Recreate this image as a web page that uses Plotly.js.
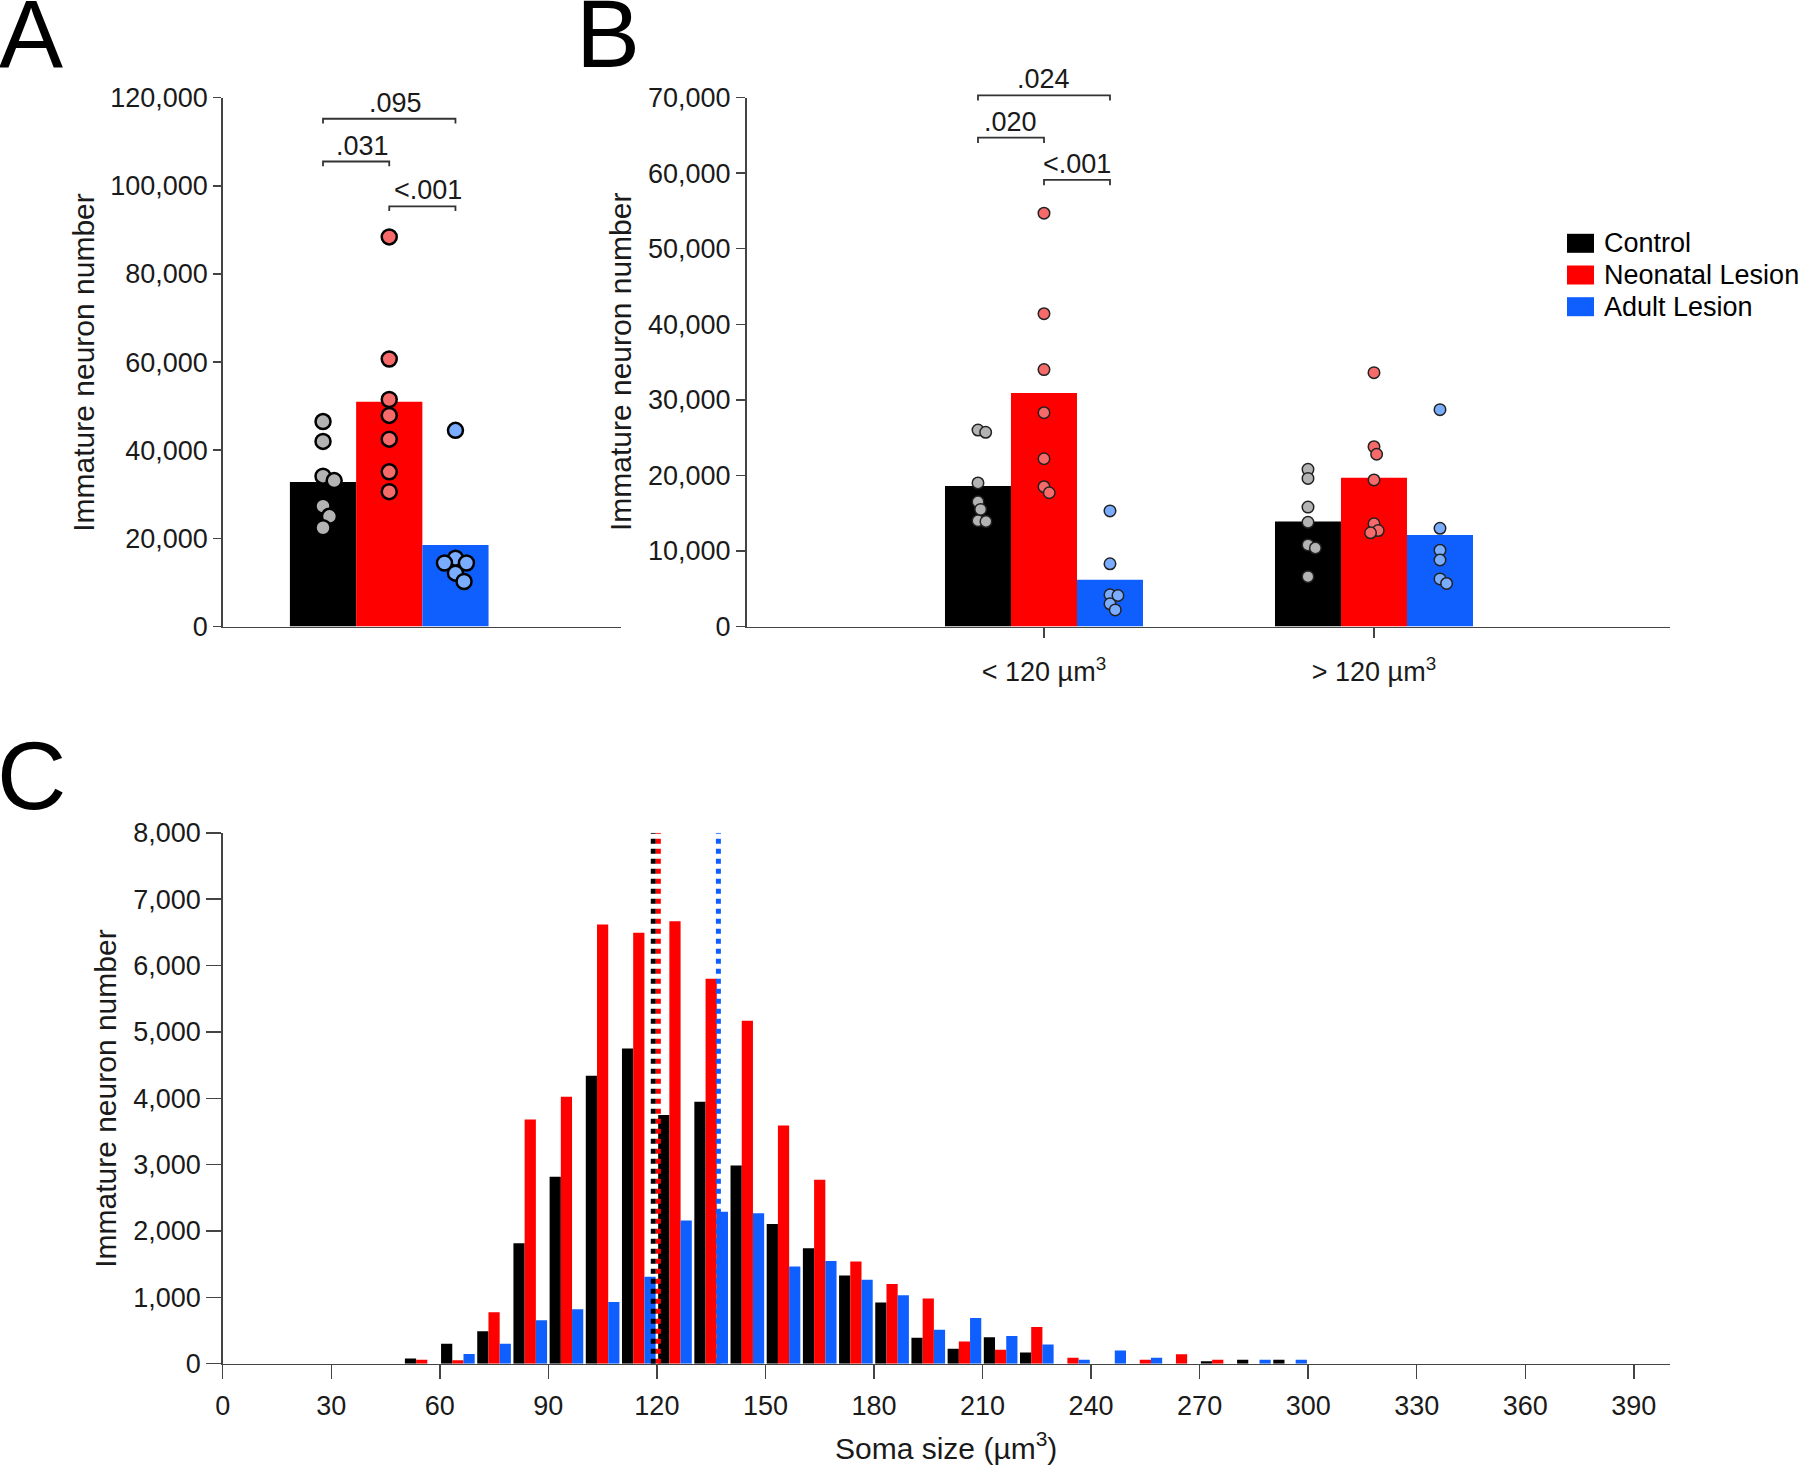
<!DOCTYPE html>
<html>
<head>
<meta charset="utf-8">
<script src="https://cdn.plot.ly/plotly-3.0.1.min.js"></script>
<style>html,body{margin:0;padding:0;background:#fff}</style>
</head>
<body>
<div id="fig" style="width:1800px;height:1468px"></div>
<script>
// ---- data ----
const groups = ['Control', 'Neonatal Lesion', 'Adult Lesion'];

// A: total immature neuron number, bar = group mean, dots = animals
const totalMeans = [32800, 51000, 18500];
const totalControl = [46500, 42000, 34100, 33100, 27300, 25000, 22400];
const totalNeonatal = [88400, 60700, 51500, 47900, 42500, 35100, 30600];
const totalAdult = [44500, 15500, 14400, 14400, 12100, 10200];
const pLabelsA = ['.095', '.031', '<.001'];
const pPairsA = [[0, 2], [0, 1], [1, 2]];
const pHeightsA = [115200, 105500, 95300];

// B: split by soma size
const sizeCats = ['< 120 \u00b5m<sup>3</sup>', '> 120 \u00b5m<sup>3</sup>'];
const sizeMeansControl = [18600, 13900];
const sizeMeansNeonatal = [30900, 19700];
const sizeMeansAdult = [6200, 12100];
const smallControl = [26000, 25700, 19000, 16500, 15500, 14000, 13900];
const smallNeonatal = [54700, 41400, 34000, 28300, 22200, 18500, 17700];
const smallAdult = [15300, 8300, 4200, 4100, 3000, 2200];
const largeControl = [20800, 19600, 15800, 13800, 10800, 10400, 6600];
const largeNeonatal = [33600, 23800, 22800, 19400, 13600, 12700, 12400];
const largeAdult = [28700, 13000, 10100, 8800, 6300, 5700];
const pLabelsB = ['.024', '.020', '<.001'];
const pPairsB = [[0, 2], [0, 1], [1, 2]];
const pHeightsB = [70300, 64700, 59100];

// C: soma size histogram (10 um^3 bins)
const somaBins = [55, 65, 75, 85, 95, 105, 115, 125, 135, 145, 155, 165, 175,
  185, 195, 205, 215, 225, 235, 245, 255, 265, 275, 285, 295];
const histControl = [77, 302, 488, 1816, 2818, 4339, 4750, 3748, 3947, 2985, 2105, 1739, 1329,
  924, 392, 225, 398, 167, 0, 0, 0, 0, 38, 58, 58];
const histNeonatal = [58, 51, 777, 3678, 4024, 6617, 6495, 6669, 5802, 5167, 3588, 2773, 1540,
  1200, 982, 334, 212, 552, 90, 0, 58, 141, 58, 0, 0];
const histAdult = [0, 148, 302, 655, 822, 931, 1309, 2157, 2291, 2266, 1463, 1547, 1264,
  1033, 513, 687, 417, 289, 58, 199, 90, 0, 0, 58, 58];
const meanSoma = [119.0, 120.4, 137.0];

// ---- styling ----
const W = 1800, H = 1468;
const FONT = 'Liberation Sans, Arial, Helvetica, sans-serif';
const TXT = '#1a1a1a';
const AX = '#444444';
const barColors = ['#000000', '#ff0000', '#0f5fff'];
const dotColors = ['#b3b3b3', '#f76a6a', '#7aacff'];

const px2x = p => p / W;
const px2y = p => 1 - p / H;

const domA = {x: [px2x(222.7), px2x(621)], y: [px2y(626.5), px2y(97.6)]};
const domB = {x: [px2x(746.5), px2x(1670)], y: domA.y};
const domC = {x: [px2x(222.7), px2x(1670)], y: [px2y(1363.7), px2y(832.8)]};
const rangeAx = [-0.503, 0.700], rangeBx = [-0.9015, 1.897];
const yMaxA = 120000, yMaxB = 70000, yMaxC = 8000;

const barW = 0.2;
const groupOff = g => (g - 1) * barW;

// simple beeswarm: shift overlapping dots sideways (in px), return offsets in x units
function swarm(values, dom, xRange, yMax, diam) {
  const pxY = (dom.y[1] - dom.y[0]) * H / yMax;
  const pxX = (dom.x[1] - dom.x[0]) * W / (xRange[1] - xRange[0]);
  const placed = [];
  const offs = values.map(v => {
    const y = v * pxY;
    const cands = [0];
    placed.forEach(p => {
      const dy = Math.abs(p.y - y);
      if (dy < diam) {
        const dx = Math.sqrt(diam * diam - dy * dy);
        cands.push(p.x + dx, p.x - dx);
      }
    });
    cands.sort((a, b) => Math.abs(a) - Math.abs(b));
    const x = cands.find(c => placed.every(p => Math.hypot(p.x - c, p.y - y) >= diam - 1e-6));
    placed.push({x: x, y: y});
    return x;
  });
  return offs.map(o => o / pxX);
}

const traces = [];
const shapes = [];
const annotations = [];

// ---- panel A ----
const totalDots = [totalControl, totalNeonatal, totalAdult];
groups.forEach((name, g) => {
  traces.push({
    type: 'bar', x: [0], y: [totalMeans[g]], xaxis: 'x', yaxis: 'y',
    width: barW, offset: groupOff(g) - barW / 2,
    marker: {color: barColors[g], line: {width: 0}}, showlegend: false, hoverinfo: 'skip'
  });
});
groups.forEach((name, g) => {
  const offs = swarm(totalDots[g], domA, rangeAx, yMaxA, 12);
  traces.push({
    type: 'scatter', mode: 'markers', xaxis: 'x', yaxis: 'y', cliponaxis: false,
    x: totalDots[g].map((v, i) => groupOff(g) + offs[i]), y: totalDots[g],
    marker: {size: 15, color: dotColors[g], line: {color: '#000', width: 2.5}},
    showlegend: false, hoverinfo: 'skip'
  });
});

// ---- panel B ----
const sizeMeans = [sizeMeansControl, sizeMeansNeonatal, sizeMeansAdult];
const sizeDots = [[smallControl, largeControl], [smallNeonatal, largeNeonatal], [smallAdult, largeAdult]];
groups.forEach((name, g) => {
  traces.push({
    type: 'bar', x: sizeCats.map((c, i) => i), y: sizeMeans[g], xaxis: 'x2', yaxis: 'y2',
    width: barW, offset: groupOff(g) - barW / 2,
    marker: {color: barColors[g], line: {width: 0}}, showlegend: false, hoverinfo: 'skip'
  });
});
groups.forEach((name, g) => {
  sizeCats.forEach((c, ci) => {
    const vals = sizeDots[g][ci];
    const offs = swarm(vals, domB, rangeBx, yMaxB, 8);
    traces.push({
      type: 'scatter', mode: 'markers', xaxis: 'x2', yaxis: 'y2', cliponaxis: false,
      x: vals.map((v, i) => ci + groupOff(g) + offs[i]), y: vals,
      marker: {size: 11.5, color: dotColors[g], line: {color: '#222', width: 1.5}},
      showlegend: false, hoverinfo: 'skip'
    });
  });
});

// ---- panel C ----
const hists = [histControl, histNeonatal, histAdult];
groups.forEach((name, g) => {
  traces.push({
    type: 'bar', x: somaBins, y: hists[g], xaxis: 'x3', yaxis: 'y3', name: name,
    marker: {color: barColors[g], line: {width: 0}}, showlegend: false, hoverinfo: 'skip'
  });
});
groups.forEach((name, g) => {
  traces.push({
    type: 'scatter', mode: 'lines', xaxis: 'x3', yaxis: 'y3',
    x: [meanSoma[g], meanSoma[g]], y: [0, yMaxC],
    line: {color: barColors[g], width: 5, dash: 'dot'}, showlegend: false, hoverinfo: 'skip'
  });
});

// ---- significance brackets (domain refs so they can sit above the axis top) ----
function brackets(labels, pairs, heights, xref, yref, yMax, drop, cat, xshift) {
  labels.forEach((lab, k) => {
    const x0 = cat + groupOff(pairs[k][0]), x1 = cat + groupOff(pairs[k][1]);
    const yTop = heights[k] / yMax, yLow = (heights[k] - drop) / yMax;
    shapes.push({
      type: 'path', xref: xref, yref: yref + ' domain',
      path: `M${x0},${yLow} L${x0},${yTop} L${x1},${yTop} L${x1},${yLow}`,
      line: {color: '#333', width: 1.8}
    });
    annotations.push({
      xref: xref, yref: yref + ' domain', x: (x0 + x1) / 2, y: yTop, text: lab,
      showarrow: false, xanchor: 'center', yanchor: 'bottom', yshift: -1, xshift: xshift,
      font: {family: FONT, size: 27, color: TXT}
    });
  });
}
brackets(pLabelsA, pPairsA, pHeightsA, 'x', 'y', yMaxA, 1050, 0, 6);
brackets(pLabelsB, pPairsB, pHeightsB, 'x2', 'y2', yMaxB, 700, 0, 0);

// ---- titles, panel letters, legend ----
const yTitle = 'Immature neuron number';
[[82.7, domA], [620, domB], [105.6, domC]].forEach(([px, dom]) => {
  annotations.push({
    xref: 'paper', yref: 'paper', x: px2x(px), y: (dom.y[0] + dom.y[1]) / 2,
    text: yTitle, textangle: -90, showarrow: false, xanchor: 'center', yanchor: 'middle',
    font: {family: FONT, size: 30, color: TXT}
  });
});
annotations.push({
  xref: 'paper', yref: 'paper', x: (domC.x[0] + domC.x[1]) / 2, y: px2y(1467),
  text: 'Soma size (\u00b5m<sup>3</sup>)', showarrow: false, xanchor: 'center', yanchor: 'bottom',
  font: {family: FONT, size: 30, color: TXT}
});
[['A', 31, 34], ['B', 608, 34], ['C', 31, 775]].forEach(([t, px, py]) => {
  annotations.push({
    xref: 'paper', yref: 'paper', x: px2x(px), y: px2y(py), text: t, showarrow: false,
    xanchor: 'center', yanchor: 'middle', font: {family: FONT, size: 96, color: '#000'}
  });
});
groups.forEach((name, g) => {
  const cy = 243.3 + g * 31.7;
  shapes.push({
    type: 'rect', xref: 'paper', yref: 'paper',
    x0: px2x(1567), x1: px2x(1594), y0: px2y(cy + 9.5), y1: px2y(cy - 9.5),
    fillcolor: barColors[g], line: {width: 0}
  });
  annotations.push({
    xref: 'paper', yref: 'paper', x: px2x(1602), y: px2y(cy), text: name, showarrow: false,
    xanchor: 'left', yanchor: 'middle', font: {family: FONT, size: 27, color: '#000'}
  });
});

// ---- axes ----
const axisBase = {
  showline: true, linecolor: AX, linewidth: 1.5, ticks: 'outside', tickcolor: AX, tickwidth: 1.5,
  showgrid: false, zeroline: false, fixedrange: true,
  tickfont: {family: FONT, size: 27, color: TXT}
};

const layout = {
  width: W, height: H,
  margin: {l: 0, r: 0, t: 0, b: 0},
  paper_bgcolor: '#fff', plot_bgcolor: 'rgba(0,0,0,0)',
  barmode: 'group', bargap: 0.07, bargroupgap: 0,
  showlegend: false,
  xaxis: Object.assign({}, axisBase, {domain: domA.x, range: rangeAx, anchor: 'y',
    ticks: '', showticklabels: false}),
  yaxis: Object.assign({}, axisBase, {domain: domA.y, range: [0, yMaxA], anchor: 'x',
    dtick: 20000, tickformat: ',', ticklen: 8}),
  xaxis2: Object.assign({}, axisBase, {domain: domB.x, range: rangeBx, anchor: 'y2',
    tickmode: 'array', tickvals: sizeCats.map((c, i) => i), ticktext: sizeCats, ticklen: 10,
    ticklabelstandoff: 11}),
  yaxis2: Object.assign({}, axisBase, {domain: domB.y, range: [0, yMaxB], anchor: 'x2',
    dtick: 10000, tickformat: ',', ticklen: 9}),
  xaxis3: Object.assign({}, axisBase, {domain: domC.x, range: [0, 400], anchor: 'y3',
    tick0: 0, dtick: 30, ticklen: 14, ticklabelstandoff: 3}),
  yaxis3: Object.assign({}, axisBase, {domain: domC.y, range: [0, yMaxC], anchor: 'x3',
    dtick: 1000, tickformat: ',', ticklen: 15}),
  shapes: shapes,
  annotations: annotations,
  font: {family: FONT, color: TXT}
};

Plotly.newPlot('fig', traces, layout, {displayModeBar: false, staticPlot: true});
</script>
</body>
</html>
